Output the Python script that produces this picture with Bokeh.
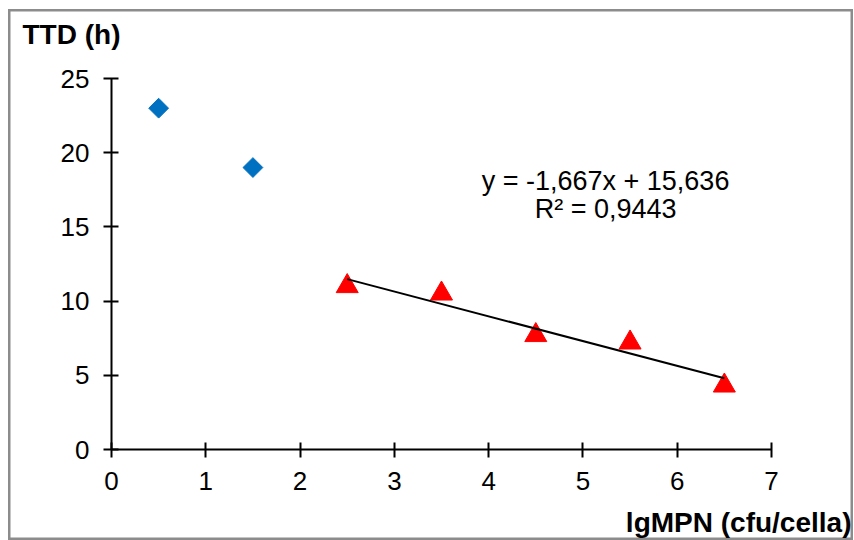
import numpy as np
from bokeh.plotting import figure
from bokeh.models import Range1d, Label, FixedTicker
from bokeh.embed import file_html
from bokeh.resources import INLINE

# data
blue_x = [0.5, 1.5]
blue_y = [23.0, 19.0]
red_x = [2.5, 3.5, 4.5, 5.5, 6.5]
red_y = [11.0, 10.5, 7.7, 7.2, 4.3]
x_ticks = [0, 1, 2, 3, 4, 5, 6, 7]
y_ticks = [0, 5, 10, 15, 20, 25]
eq_text = "y = -1,667x + 15,636"
r2_text = "R² = 0,9443"
x_title = "lgMPN (cfu/cella)"
y_title = "TTD (h)"

FONT = "Liberation Sans"

p = figure(width=845, height=531, output_backend="svg", toolbar_location=None,
           x_range=Range1d(-1.0924, 7.8697), y_range=Range1d(-6.132, 29.650),
           min_border=0)
p.margin = (9, 0, 0, 8)
p.grid.visible = False
p.outline_line_color = "#8c8c8c"
p.outline_line_width = 4
p.background_fill_color = "white"
p.border_fill_color = "white"

for ax, ticks in ((p.xaxis[0], x_ticks), (p.yaxis[0], y_ticks)):
    ax.ticker = FixedTicker(ticks=ticks)
    ax.fixed_location = 0
    ax.bounds = (ticks[0], ticks[-1])
    ax.axis_line_color = "black"
    ax.axis_line_width = 2
    ax.major_tick_line_color = "black"
    ax.major_tick_line_width = 2
    ax.major_tick_in = 7
    ax.major_tick_out = 8
    ax.minor_tick_line_color = None
    ax.major_label_text_font = FONT
    ax.major_label_text_font_size = "26px"
    ax.major_label_text_color = "black"
p.xaxis.major_label_standoff = 14
p.yaxis.major_label_standoff = 14

p.scatter(blue_x, blue_y, marker="square", angle=np.pi / 4, size=14,
          fill_color="#0070C0", line_color="#0070C0")
p.scatter(red_x, red_y, marker="triangle", size=22,
          fill_color="#FF0000", line_color="#FF0000")

coef = np.polyfit(red_x, red_y, 1)
lx = [min(red_x), max(red_x)]
ly = [coef[0] * v + coef[1] for v in lx]
p.line(lx, ly, line_color="black", line_width=2)

p.add_layout(Label(x=5.24, y=18.1, text=eq_text, text_font=FONT, text_font_size="27px",
                   text_align="center", text_baseline="middle", text_color="black"))
p.add_layout(Label(x=5.24, y=16.2, text=r2_text, text_font=FONT, text_font_size="27px",
                   text_align="center", text_baseline="middle", text_color="black"))

p.add_layout(Label(x=-0.944, y=27.95, text=y_title, text_font=FONT, text_font_size="28px",
                   text_font_style="bold", text_align="left", text_baseline="middle",
                   text_color="black"))
p.add_layout(Label(x=7.848, y=-4.95, text=x_title, text_font=FONT, text_font_size="28px",
                   text_font_style="bold", text_align="right", text_baseline="middle",
                   text_color="black"))

open("out.html", "w").write(file_html(p, INLINE))
